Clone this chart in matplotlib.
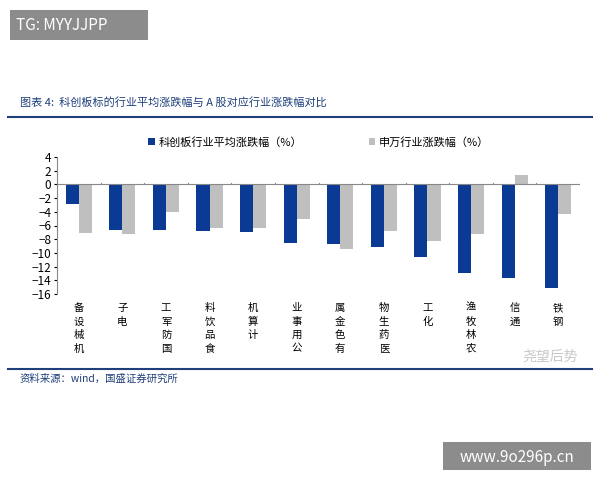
import matplotlib
matplotlib.use("Agg")
import matplotlib.pyplot as plt
import numpy as np

plt.rcParams['font.family'] = ['Noto Sans CJK SC', 'DejaVu Sans']

categories = ["机械设备", "电子", "国防军工", "食品饮料", "计算机", "公用事业",
              "有色金属", "医药生物", "化工", "农林牧渔", "通信", "钢铁"]
star_vals = [-2.8, -6.7, -6.7, -6.8, -6.9, -8.6, -8.7, -9.1, -10.6, -12.9, -13.7, -15.1]
sw_vals = [-7.1, -7.2, -4.1, -6.3, -6.3, -5.1, -9.4, -6.8, -8.2, -7.2, 1.3, -4.3]
yticks = list(range(-16, 5, 2))

fig = plt.figure(figsize=(6, 4.8), dpi=100)
fig.patch.set_facecolor('white')

fig.patches.append(plt.Rectangle((10/600, 1-40/480), 138/600, 30/480, transform=fig.transFigure,
                                 facecolor='#8c8c8c', edgecolor='none'))
fig.text(16/600, 1-25/480, "TG: MYYJJPP", color='white', fontsize=11, va='center')
fig.patches.append(plt.Rectangle((443/600, 1-470/480), 148/600, 28/480, transform=fig.transFigure,
                                 facecolor='#8c8c8c', edgecolor='none'))
fig.text(517/600, 1-457/480, "www.9o296p.cn", color='white', fontsize=11, va='center', ha='center')

fig.text(20/600, 1-102/480, "图表 4:  科创板标的行业平均涨跌幅与 A 股对应行业涨跌幅对比",
         color='#1f3f7a', fontsize=8, style='italic', va='center')
fig.add_artist(plt.Line2D([8/600, 592/600], [1-117/480, 1-117/480], color='#1f3f7a', lw=1.5))
fig.add_artist(plt.Line2D([8/600, 592/600], [1-369/480, 1-369/480], color='#1f3f7a', lw=1.5))
fig.text(20/600, 1-379/480, "资料来源：wind，国盛证券研究所", color='#1f3f7a', fontsize=7.5,
         style='italic', va='center')
fig.text(578/600, 1-357/480, "尧望后势", color='#c8c8c8', fontsize=10, ha='right', va='center')

ax = fig.add_axes([57/600, 1-294/480, 523/600, 137/480])
x = np.arange(len(categories))
w = 0.3
ax.bar(x - w/2, star_vals, w, color='#0a3a94', label='科创板行业平均涨跌幅（%）')
ax.bar(x + w/2, sw_vals, w, color='#bfbfbf', label='申万行业涨跌幅（%）')
ax.set_xlim(-0.5, len(categories) - 0.5)
ax.set_ylim(-16, 4)
ax.set_yticks(yticks)
ax.tick_params(axis='y', labelsize=8.5, length=2, pad=2)
ax.set_xticks([])
for s in ['top', 'right', 'bottom']:
    ax.spines[s].set_visible(False)
ax.spines['left'].set_color('#888888')
ax.axhline(0, color='#888888', lw=0.8)
for i in range(len(categories) + 1):
    ax.plot([i - 0.5, i - 0.5], [0, 0.25], color='#888888', lw=0.8)
for i, c in enumerate(categories):
    ax.text(i, -17.3, "\n".join(reversed(c)), ha='center', va='top', fontsize=7.5, linespacing=1.45)
ax.legend(loc='upper center', bbox_to_anchor=(0.5, 1.22), ncol=2, frameon=False,
          fontsize=8, handlelength=0.6, handleheight=0.6, columnspacing=6, handletextpad=0.3)

fig.savefig("out.png", dpi=100)
